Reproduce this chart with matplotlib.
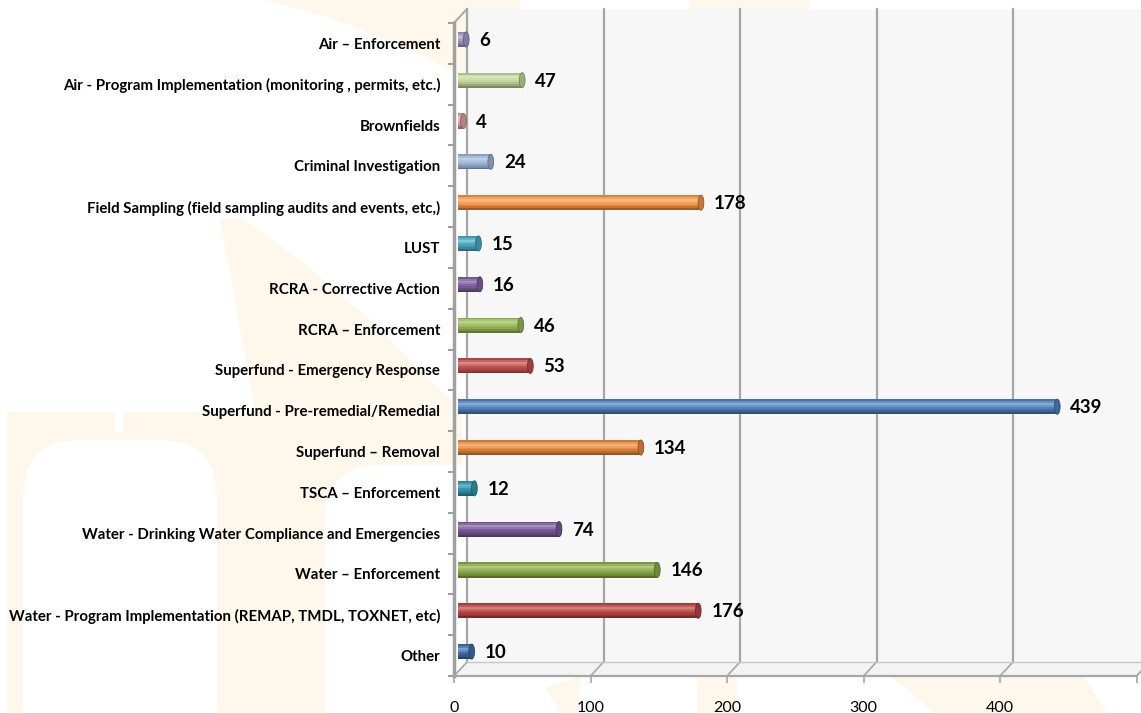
import matplotlib
matplotlib.use('Agg')
import matplotlib.pyplot as plt
import matplotlib.transforms as mtransforms
from matplotlib.patches import Polygon, Rectangle, FancyBboxPatch, Ellipse
from matplotlib.colors import to_rgb
import numpy as np

# data, listed top to bottom as in the chart
categories = [
    'Air – Enforcement',
    'Air - Program Implementation (monitoring , permits, etc.)',
    'Brownfields',
    'Criminal Investigation',
    'Field Sampling (field sampling audits and events, etc,)',
    'LUST',
    'RCRA - Corrective Action',
    'RCRA – Enforcement',
    'Superfund - Emergency Response',
    'Superfund - Pre-remedial/Remedial',
    'Superfund – Removal',
    'TSCA – Enforcement',
    'Water - Drinking Water Compliance and Emergencies',
    'Water – Enforcement',
    'Water - Program Implementation (REMAP, TMDL, TOXNET, etc)',
    'Other',
]
values = [6, 47, 4, 24, 178, 15, 16, 46, 53, 439, 134, 12, 74, 146, 176, 10]
bar_colors = ['#a79bc8', '#c4d89c', '#e3a3a2', '#9eb6d9', '#f79646', '#4bacc6',
              '#8064a2', '#9bbb59', '#c0504d', '#4f81bd', '#ec8a3e', '#3399b0',
              '#775a9a', '#8aac4a', '#bb4542', '#3f70ad']
x_ticks = [0, 100, 200, 300, 400, 500]
x_tick_labels = ['0', '100', '200', '300', '400', '']

W, H = 1141, 713
plt.rcParams['font.family'] = ['Lato', 'DejaVu Sans']

fig = plt.figure(figsize=(W / 100, H / 100), dpi=100)
fig.patch.set_facecolor('white')

def fx(x):
    return x / W

def fy(y):
    return 1 - y / H

# pale watermark behind the chart
pale = '#fef7ec'
def poly(pts, color=pale):
    fig.patches.append(Polygon([(fx(a), fy(b)) for a, b in pts], closed=True,
                               transform=fig.transFigure, facecolor=color,
                               edgecolor='none', zorder=-2))

def arch(x0, x1, ytop, color='white'):
    fig.patches.append(FancyBboxPatch((fx(x0), fy(760)), fx(x1) - fx(x0), fy(ytop) - fy(760),
                                      boxstyle='round,pad=0,rounding_size=0.05',
                                      mutation_aspect=1.6, transform=fig.transFigure,
                                      facecolor=color, edgecolor='none', zorder=-1))

poly([(265, 0), (520, 0), (520, 110), (460, 75), (400, 45), (330, 18)])
poly([(690, 0), (810, 0), (810, 20), (690, 20)])
poly([(220, 218), (242, 218), (300, 260), (370, 320), (430, 380), (462, 410), (462, 420), (257, 420)])
poly([(7, 412), (462, 412), (462, 713), (7, 713)])
arch(23, 217, 440)
arch(325, 520, 465)
poly([(115, 412), (123, 412), (123, 432), (115, 432)], 'white')
poly([(545, 688), (580, 676), (580, 713), (560, 713)])
poly([(697, 676), (737, 676), (737, 713), (697, 713)])
poly([(890, 676), (1083, 676), (1107, 713), (935, 713)])

# axes: x=0 at the front edge (454 px), 500 at 1136 px; front floor at 676 px
ax = fig.add_axes([fx(454), fy(676), (1136.5 - 454) / W, (676 - 10) / H])
ax.set_facecolor('none')
n = len(categories)
ypos = np.arange(n)[::-1]
row_px = (676 - 23) / 16
ax.set_xlim(0, 500)
ax.set_ylim(-0.5, 15.5 + 13 / row_px)

back = ax.transData + mtransforms.ScaledTranslation(13 / 100, 14 / 100, fig.dpi_scale_trans)
mid = ax.transData + mtransforms.ScaledTranslation(4 / 100, 4 / 100, fig.dpi_scale_trans)

# back wall, side wall and floor
ax.add_patch(Rectangle((0, -0.5), 560, 16, transform=back, facecolor='#f7f7f7',
                       edgecolor='none', clip_on=False, zorder=0))
ax.add_patch(Polygon([(0, -0.5), (0, 15.5), (0.95, 15.5 + 14 / row_px), (0.95, -0.5 + 14 / row_px)],
                     facecolor='#efefef', edgecolor='none', clip_on=False, zorder=0))
ax.add_patch(Polygon([(0, -0.5), (520, -0.5), (529.5, -0.5 + 14 / row_px), (9.5, -0.5 + 14 / row_px)],
                     facecolor='#f3f3f3', edgecolor='none', clip_on=False, zorder=0))

grid_c = '#a6a6a6'
for t in x_ticks:
    ax.plot([t, t], [-0.5, 15.5], transform=back, color=grid_c, lw=1.6,
            clip_on=False, zorder=1)
    ax.plot([t, t + 9.5], [-0.5, -0.5 + 14 / row_px], color=grid_c, lw=1.2,
            clip_on=False, zorder=1)
ax.plot([0, 500], [-0.5, -0.5], transform=back, color='#c8c8c8', lw=1.0, clip_on=False, zorder=1)
ax.plot([0, 9.5], [15.5, 15.5 + 14 / row_px], color=grid_c, lw=1.4, clip_on=False, zorder=1)

# cylinder-like bars built from shaded slices
bh = 0.37
shades = [0.62, 0.78, 0.9, 1.0, 1.08, 1.15, 1.05, 0.88]
for y, v, c in zip(ypos, values, bar_colors):
    rgb = np.array(to_rgb(c))
    k = len(shades)
    for i, s in enumerate(shades):
        if s <= 1:
            col = rgb * s
        else:
            col = rgb + (1 - rgb) * (s - 1) * 2.2
        ax.barh(y - bh / 2 + (i + 0.5) * bh / k, v, height=bh / k, left=0,
                color=np.clip(col, 0, 1), edgecolor='none', transform=mid, zorder=3)
    ax.add_patch(Ellipse((v, y), 4.2, bh, transform=mid, facecolor=np.clip(rgb * 0.8, 0, 1),
                         edgecolor=np.clip(rgb * 0.6, 0, 1), lw=0.6, zorder=4))
    ax.annotate(str(v), (v, y), xytext=(17, 3), textcoords='offset pixels',
                ha='left', va='center', fontsize=13.5, fontweight='bold', color='black',
                zorder=5)

# axes styling
for s in ['top', 'right']:
    ax.spines[s].set_visible(False)
ax.spines['bottom'].set_color(grid_c)
ax.spines['bottom'].set_linewidth(1.6)
ax.spines['left'].set_color('#a0a0a0')
ax.spines['left'].set_linewidth(2.5)
ax.spines['left'].set_bounds(-0.5, 15.5)

ax.set_xticks(x_ticks)
ax.set_xticklabels(x_tick_labels)
ax.tick_params(axis='x', length=5, width=1.2, color=grid_c, pad=13, labelsize=11.5,
               labelcolor='black')
ax.set_yticks(ypos)
ax.set_yticklabels(categories, fontweight='bold', fontsize=10.8)
ax.set_yticks(np.arange(-0.5, 16, 1), minor=True)
ax.tick_params(axis='y', which='major', length=0, pad=10)
ax.tick_params(axis='y', which='minor', length=4, width=1.2, color='#8c8c8c')

fig.savefig('out.png', dpi=100)
